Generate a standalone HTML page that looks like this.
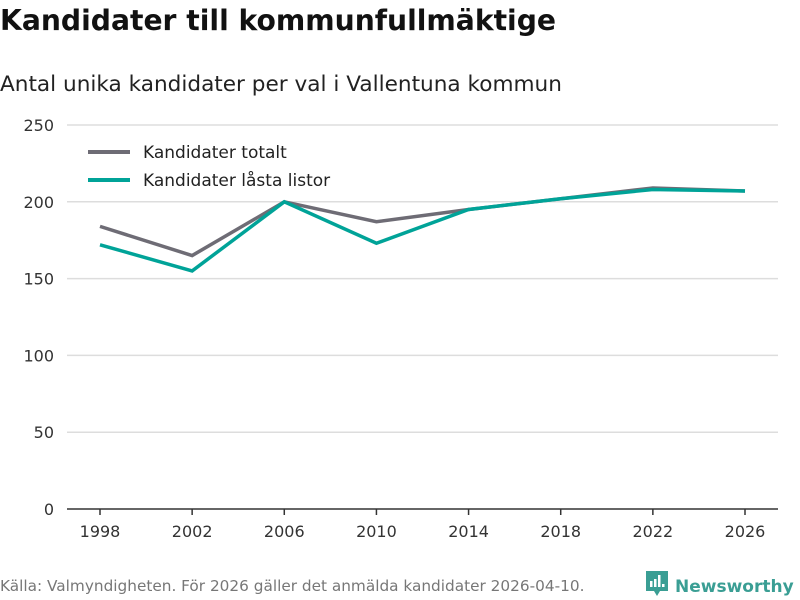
<!DOCTYPE html>
<html><head><meta charset="utf-8">
<style>
body{margin:0;width:800px;height:600px;background:#fff;font-family:"DejaVu Sans","Liberation Sans",sans-serif;overflow:hidden;position:relative}
.t{position:absolute;white-space:nowrap}
</style></head><body>
<div class="t" style="left:0;top:4px;font-size:28.2px;font-weight:bold;color:#111">Kandidater till kommunfullmäktige</div>
<div class="t" style="left:0;top:72px;font-size:21.6px;color:#222">Antal unika kandidater per val i Vallentuna kommun</div>
<div class="t" style="left:0;top:577px;font-size:15.3px;color:#777">Källa: Valmyndigheten. För 2026 gäller det anmälda kandidater 2026-04-10.</div>
<div class="t" style="left:645px;top:570px;font-size:17px;font-weight:bold;color:#3a9e94">
<svg width="24" height="28" viewBox="0 0 24 28" style="vertical-align:-6px;margin-right:6px"><path d="M1 1h22v20h-8l-3 5-3-5H1z" fill="#3a9e94"/><rect x="5" y="11" width="2.5" height="6" fill="#fff"/><rect x="9" y="9" width="2.5" height="8" fill="#fff"/><rect x="13" y="5" width="2.5" height="12" fill="#fff"/><rect x="17" y="14" width="2.5" height="3" fill="#fff"/></svg>Newsworthy</div>
<svg id="chart" width="800" height="600" style="position:absolute;left:0;top:0"></svg>
<script>
const years=[1998,2002,2006,2010,2014,2018,2022,2026];
const totalt=[184,165,200,187,195,202,209,207];
const lasta=[172,155,200,173,195,202,208,207];
const yTicks=[0,50,100,150,200,250];
const xTicks=[1998,2002,2006,2010,2014,2018,2022,2026];
const NS="http://www.w3.org/2000/svg";
const svg=document.getElementById('chart');
const x=v=>100+(v-1998)*(645/28);
const y=v=>509-v*1.536;
function mk(t,a){const e=document.createElementNS(NS,t);for(const k in a)e.setAttribute(k,a[k]);svg.appendChild(e);return e;}
yTicks.forEach(v=>{
 const l=mk('line',{x1:67,x2:778,y1:y(v),y2:y(v),stroke:v==0?'#333':'#ddd','stroke-width':1.5});
 
 
 const t=mk('text',{x:54,y:y(v)+6,'text-anchor':'end','font-size':16,fill:'#333','font-family':'DejaVu Sans, Liberation Sans, sans-serif'});
 t.textContent=v;
 
 
});
xTicks.forEach(v=>{
 const l=mk('line',{x1:x(v),x2:x(v),y1:509,y2:515,stroke:'#333','stroke-width':1.5});
 
 
 const t=mk('text',{x:x(v),y:537,'text-anchor':'middle','font-size':16,fill:'#333','font-family':'DejaVu Sans, Liberation Sans, sans-serif'});
 t.textContent=v;
 
 
});
function series(vals,color,name){
 const p=mk('polyline',{points:vals.map((v,i)=>x(years[i])+','+y(v)).join(' '),fill:'none',stroke:color,'stroke-width':3.5,'stroke-linejoin':'miter'});
 
 
}
series(totalt,'#6e6c75','line-kandidater-totalt');
series(lasta,'#00a398','line-kandidater-lasta-listor');
[['Kandidater totalt','#6e6c75',152],['Kandidater låsta listor','#00a398',180]].forEach(([lab,c,yy])=>{
 const l=mk('line',{x1:88,x2:130,y1:yy,y2:yy,stroke:c,'stroke-width':4});
 
 
 const t=mk('text',{x:143,y:yy+6,'font-size':17,fill:'#222','font-family':'DejaVu Sans, Liberation Sans, sans-serif'});
 t.textContent=lab;
 
 
});
</script>
</body></html>
